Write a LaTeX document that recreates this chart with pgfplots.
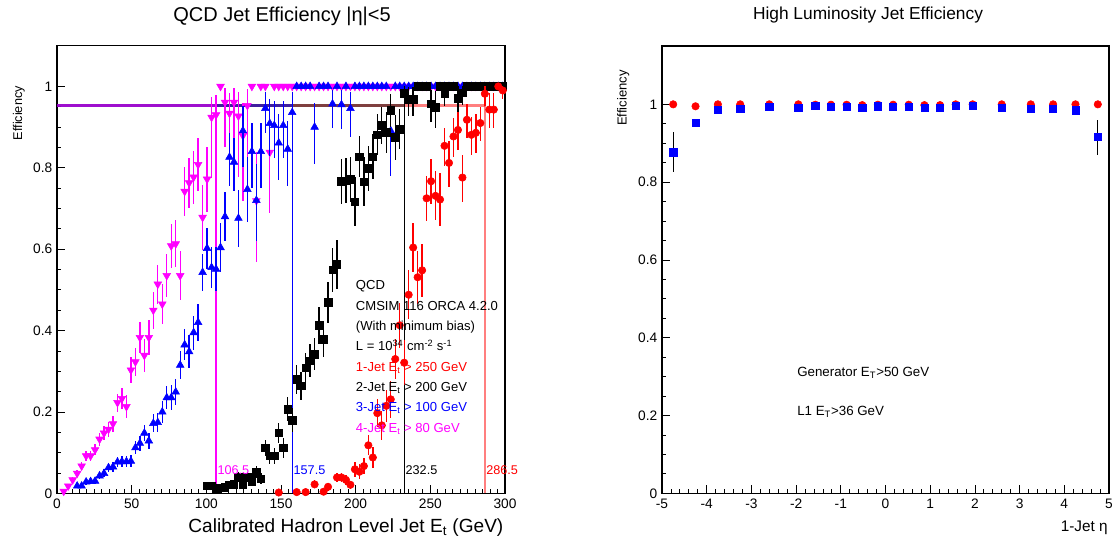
\documentclass[border=0pt]{standalone}
\usepackage{fontspec}
\setmainfont{Liberation Sans}
\usepackage{pgfplots}
\usepackage{pgfplotstable}
\pgfplotsset{compat=1.18}
\definecolor{rmag}{rgb}{1,0,1}
\definecolor{rblue}{rgb}{0,0,1}
\definecolor{rred}{rgb}{1,0,0}

\pgfplotstableread{
x y ep em
4.5 0.005 0.005 0.005
7.5 0.018 0.006 0.006
10.5 0.033 0.008 0.008
13.5 0.049 0.009 0.009
16.5 0.067 0.010 0.010
19.5 0.092 0.012 0.012
22.5 0.092 0.013 0.013
25.5 0.107 0.014 0.014
28.5 0.133 0.016 0.016
31.5 0.148 0.018 0.018
34.5 0.157 0.019 0.019
37.5 0.171 0.020 0.020
40.5 0.223 0.022 0.022
43.5 0.233 0.025 0.025
46.5 0.213 0.028 0.028
49.5 0.303 0.032 0.032
52.5 0.323 0.035 0.035
55.5 0.383 0.037 0.037
58.5 0.339 0.040 0.040
61.5 0.383 0.042 0.042
64.5 0.450 0.045 0.045
67.5 0.514 0.048 0.048
70.5 0.465 0.050 0.050
73.5 0.535 0.052 0.052
76.5 0.608 0.055 0.055
79.5 0.613 0.058 0.058
82.5 0.535 0.060 0.060
85.5 0.742 0.060 0.060
88.5 0.763 0.062 0.062
91.5 0.777 0.065 0.065
94.5 0.808 0.065 0.065
97.5 0.678 0.080 0.080
100.5 0.772 0.080 0.080
103.5 0.924 0.050 0.150
106.5 0.930 0.050 0.150
109.5 1 0 0
112.5 0.961 0.035 0.110
115.5 0.934 0.050 0.140
118.5 0.961 0.035 0.110
121.5 0.927 0.060 0.150
124.5 0.879 0.080 0.160
127.5 0.953 0.040 0.130
130.5 1 0 0
133.5 0.719 0.120 0.150
136.5 1 0 0
139.5 1 0 0
142.5 0.838 0.120 0.150
145.5 1 0 0
148.5 1 0 0
151.5 1 0 0
154.5 1 0 0
157.5 1 0 0
160.5 1 0 0
163.5 1 0 0
166.5 1 0 0
169.5 1 0 0
172.5 1 0 0
175.5 1 0 0
178.5 1 0 0
181.5 1 0 0
184.5 1 0 0
187.5 1 0 0
190.5 1 0 0
193.5 1 0 0
196.5 1 0 0
199.5 1 0 0
202.5 1 0 0
205.5 1 0 0
208.5 1 0 0
211.5 1 0 0
214.5 1 0 0
217.5 1 0 0
220.5 1 0 0
223.5 1 0 0
226.5 1 0 0
229.5 1 0 0
232.5 1 0 0
235.5 1 0 0
238.5 1 0 0
241.5 1 0 0
244.5 1 0 0
247.5 1 0 0
250.5 1 0 0
253.5 1 0 0
256.5 1 0 0
259.5 1 0 0
262.5 1 0 0
265.5 1 0 0
268.5 1 0 0
271.5 1 0 0
274.5 1 0 0
277.5 1 0 0
280.5 1 0 0
283.5 1 0 0
286.5 1 0 0
289.5 1 0 0
292.5 1 0 0
295.5 1 0 0
298.5 1 0 0
}\fourjet

\pgfplotstableread{
x y ep em
13.5 0.018 0.006 0.006
16.5 0.018 0.006 0.006
19.5 0.028 0.007 0.007
22.5 0.029 0.007 0.007
25.5 0.030 0.008 0.008
28.5 0.043 0.009 0.009
31.5 0.049 0.010 0.010
34.5 0.063 0.011 0.011
37.5 0.065 0.012 0.012
40.5 0.077 0.013 0.013
43.5 0.078 0.013 0.013
46.5 0.078 0.014 0.014
49.5 0.079 0.014 0.014
52.5 0.112 0.016 0.016
55.5 0.123 0.018 0.018
58.5 0.148 0.020 0.020
61.5 0.129 0.020 0.020
64.5 0.172 0.022 0.022
67.5 0.174 0.024 0.024
70.5 0.200 0.026 0.026
73.5 0.235 0.028 0.028
76.5 0.235 0.030 0.030
79.5 0.249 0.032 0.032
82.5 0.315 0.035 0.035
85.5 0.365 0.038 0.038
88.5 0.348 0.040 0.040
91.5 0.395 0.042 0.042
94.5 0.420 0.045 0.045
97.5 0.543 0.045 0.045
100.5 0.602 0.050 0.050
103.5 0.555 0.050 0.050
106.5 0.551 0.055 0.055
109.5 0.604 0.060 0.060
112.5 0.680 0.060 0.060
115.5 0.826 0.060 0.070
118.5 0.814 0.060 0.070
121.5 0.676 0.070 0.070
124.5 0.891 0.060 0.090
127.5 0.747 0.080 0.080
130.5 0.840 0.070 0.090
133.5 0.720 0.090 0.100
136.5 0.840 0.070 0.090
139.5 0.946 0.040 0.060
142.5 0.909 0.060 0.080
145.5 0.904 0.060 0.080
148.5 0.861 0.070 0.090
151.5 0.904 0.060 0.080
154.5 0.846 0.070 0.090
157.5 0.936 0.050 0.070
160.5 1 0 0
163.5 1 0 0
166.5 1 0 0
169.5 1 0 0
172.5 0.900 0.060 0.090
175.5 1 0 0
178.5 1 0 0
181.5 1 0 0
184.5 0.957 0.035 0.060
187.5 1 0 0
190.5 0.955 0.035 0.060
193.5 1 0 0
196.5 0.946 0.040 0.070
199.5 1 0 0
202.5 1 0 0
205.5 1 0 0
208.5 1 0 0
211.5 1 0 0
214.5 1 0 0
217.5 1 0 0
220.5 1 0 0
223.5 0.891 0.070 0.110
226.5 1 0 0
229.5 1 0 0
232.5 1 0 0
235.5 1 0 0
238.5 1 0 0
241.5 1 0 0
244.5 1 0 0
247.5 1 0 0
250.5 1 0 0
253.5 1 0 0
256.5 1 0 0
259.5 1 0 0
262.5 1 0 0
265.5 1 0 0
268.5 1 0 0
271.5 1 0 0
274.5 1 0 0
277.5 1 0 0
280.5 1 0 0
283.5 1 0 0
286.5 1 0 0
289.5 1 0 0
292.5 1 0 0
295.5 1 0 0
298.5 1 0 0
}\threejet

\pgfplotstableread{
x y ep em
100.5 0.018 0.006 0.006
103.5 0.018 0.006 0.006
106.5 0.012 0.006 0.006
109.5 0.014 0.006 0.006
112.5 0.015 0.006 0.006
115.5 0.021 0.008 0.008
118.5 0.022 0.008 0.008
121.5 0.041 0.012 0.012
124.5 0.022 0.010 0.010
127.5 0.041 0.012 0.012
130.5 0.030 0.012 0.012
133.5 0.052 0.015 0.015
136.5 0.036 0.014 0.014
139.5 0.112 0.020 0.020
142.5 0.092 0.020 0.020
145.5 0.092 0.020 0.020
148.5 0.149 0.025 0.025
151.5 0.112 0.025 0.025
154.5 0.207 0.030 0.030
157.5 0.180 0.030 0.030
160.5 0.280 0.035 0.035
163.5 0.264 0.035 0.035
166.5 0.309 0.035 0.035
169.5 0.326 0.040 0.040
172.5 0.342 0.040 0.040
175.5 0.413 0.045 0.045
178.5 0.379 0.045 0.045
181.5 0.469 0.050 0.050
184.5 0.549 0.055 0.055
187.5 0.563 0.060 0.060
190.5 0.767 0.055 0.055
193.5 0.768 0.055 0.055
196.5 0.772 0.055 0.055
199.5 0.717 0.060 0.060
202.5 0.827 0.050 0.050
205.5 0.766 0.060 0.060
208.5 0.799 0.055 0.055
211.5 0.827 0.055 0.055
214.5 0.881 0.050 0.050
217.5 0.904 0.045 0.045
220.5 0.887 0.050 0.050
223.5 0.941 0.040 0.040
226.5 0.875 0.055 0.055
229.5 0.895 0.050 0.050
232.5 0.983 0.017 0.030
235.5 0.968 0.030 0.040
238.5 0.968 0.030 0.040
241.5 1 0 0
244.5 1 0 0
247.5 1 0 0
250.5 0.957 0.035 0.045
253.5 0.949 0.040 0.050
256.5 1 0 0
259.5 0.983 0.017 0.030
262.5 1 0 0
265.5 1 0 0
268.5 0.971 0.029 0.040
271.5 0.984 0.016 0.030
274.5 1 0 0
277.5 1 0 0
280.5 1 0 0
283.5 1 0 0
286.5 1 0 0
289.5 1 0 0
292.5 1 0 0
295.5 1 0 0
298.5 1 0 0
}\twojet

\pgfplotstableread{
x y ep em
148.5 0.002 0.004 0.002
160.5 0.003 0.005 0.003
166.5 0.003 0.005 0.003
172.5 0.022 0.010 0.010
178.5 0.004 0.006 0.004
181.5 0.016 0.010 0.010
187.5 0.039 0.012 0.012
190.5 0.039 0.012 0.012
193.5 0.033 0.012 0.012
196.5 0.021 0.010 0.010
199.5 0.059 0.018 0.018
202.5 0.053 0.018 0.018
205.5 0.067 0.020 0.020
208.5 0.118 0.025 0.025
211.5 0.088 0.025 0.025
214.5 0.197 0.035 0.035
217.5 0.167 0.035 0.035
220.5 0.215 0.040 0.040
223.5 0.231 0.045 0.045
226.5 0.330 0.050 0.050
229.5 0.413 0.055 0.055
232.5 0.321 0.055 0.055
235.5 0.488 0.060 0.060
238.5 0.604 0.060 0.060
241.5 0.531 0.065 0.065
244.5 0.548 0.065 0.065
247.5 0.725 0.055 0.055
250.5 0.767 0.055 0.055
253.5 0.731 0.060 0.060
256.5 0.722 0.065 0.065
259.5 0.854 0.045 0.050
262.5 0.812 0.055 0.060
265.5 0.877 0.045 0.050
268.5 0.893 0.045 0.050
271.5 0.776 0.055 0.060
274.5 0.918 0.040 0.045
277.5 0.881 0.045 0.050
280.5 0.886 0.045 0.050
283.5 0.910 0.040 0.045
286.5 0.982 0.018 0.030
289.5 0.943 0.040 0.045
292.5 0.943 0.040 0.045
295.5 1 0 0
298.5 0.990 0.010 0.020
}\onejet

\pgfplotstableread{
x y
-4.75 1.000
-4.25 0.995
-3.75 1.000
-3.25 1.000
-2.60 1.000
-1.95 1.000
-1.57 0.999
-1.22 0.999
-0.87 0.999
-0.52 0.998
-0.17 0.999
0.17 0.999
0.52 0.999
0.87 0.998
1.22 0.998
1.57 1.000
1.95 1.000
2.60 1.000
3.25 1.000
3.75 1.000
4.25 1.000
4.75 1.000
}\genred

\pgfplotstableread{
x y e
-4.75 0.877 0.052
-4.25 0.953 0.008
-3.75 0.987 0.004
-3.25 0.989 0.004
-2.60 0.993 0.003
-1.95 0.991 0.003
-1.57 0.996 0.003
-1.22 0.994 0.003
-0.87 0.993 0.003
-0.52 0.992 0.003
-0.17 0.995 0.003
0.17 0.993 0.003
0.52 0.993 0.003
0.87 0.991 0.003
1.22 0.991 0.003
1.57 0.996 0.003
1.95 0.996 0.003
2.60 0.991 0.003
3.25 0.989 0.004
3.75 0.988 0.004
4.25 0.985 0.005
4.75 0.916 0.045
}\lonesq

\pgfplotsset{
  rootaxis/.style={
    scale only axis, anchor=south west,
    tick align=inside, tick pos=left,
    major tick length=6pt, minor tick length=3pt,
    every tick/.style={black, line width=0.6pt},
    axis line style={line width=0.8pt},
    tick label style={font=\fontsize{10.3}{12}\selectfont},
    /pgf/number format/assume math mode=true,
    clip mode=individual,
  },
}

\begin{document}
\begin{tikzpicture}
\path[use as bounding box] (0,0) rectangle (836.25pt,403.5pt);

% ---------------- left panel ----------------
\begin{axis}[rootaxis,
  at={(42.75pt,33.5pt)}, width=336pt, height=335.7pt,
  xmin=0, xmax=300, ymin=0, ymax=1.1,
  xtick={0,50,100,150,200,250,300},
  ytick={0,0.2,0.4,0.6,0.8,1},
  minor x tick num=9, minor y tick num=3,
  xticklabel style={yshift=-1pt},
]
% threshold lines
\addplot[rred, line width=1.6pt, opacity=0.5] coordinates {(0,0.953) (286.5,0.953)};
\addplot[black, line width=1.6pt, opacity=0.5] coordinates {(0,0.953) (232.5,0.953)};
\addplot[rblue, line width=1.6pt, opacity=0.5] coordinates {(0,0.953) (157.5,0.953)};
\addplot[rmag, line width=1.6pt, opacity=0.5] coordinates {(0,0.953) (106.5,0.953)};
\addplot[rred, line width=1pt, opacity=0.5] coordinates {(286.5,0.953) (286.5,0)};
\addplot[black, line width=0.7pt] coordinates {(232.5,0.953) (232.5,0)};
\addplot[rblue, line width=0.7pt] coordinates {(157.5,0.953) (157.5,0)};
\addplot[rmag, line width=0.9pt] coordinates {(106.5,0.953) (106.5,0)};

% 4-jet
\addplot[only marks, rmag, mark=triangle*, mark size=3.3pt,
  mark options={rotate=180, fill=rmag, draw=rmag},
  error bars/.cd, y dir=both, y explicit, error mark=none,
  error bar style={rmag, line width=1pt}]
  table[x=x, y=y, y error plus=ep, y error minus=em] {\fourjet};
% 3-jet
\addplot[only marks, rblue, mark=triangle*, mark size=3.3pt,
  mark options={fill=rblue, draw=rblue},
  error bars/.cd, y dir=both, y explicit, error mark=none,
  error bar style={rblue, line width=1pt}]
  table[x=x, y=y, y error plus=ep, y error minus=em] {\threejet};
% 2-jet
\addplot[only marks, black, mark=square*, mark size=2.8pt,
  mark options={fill=black, draw=black},
  error bars/.cd, y dir=both, y explicit, error mark=none,
  error bar style={black, line width=1pt}]
  table[x=x, y=y, y error plus=ep, y error minus=em] {\twojet};
% 1-jet
\addplot[only marks, rred, mark=*, mark size=2.8pt,
  mark options={fill=rred, draw=rred},
  error bars/.cd, y dir=both, y explicit, error mark=none,
  error bar style={rred, line width=1pt}]
  table[x=x, y=y, y error plus=ep, y error minus=em] {\onejet};

\begin{scope}[every node/.style={anchor=base west, inner sep=0pt, font=\fontsize{9.5}{11}\selectfont}]
\node[text=rmag] at (axis cs:107.3,0.047) {106.5};
\node[text=rblue] at (axis cs:158.3,0.047) {157.5};
\node[text=black] at (axis cs:233.3,0.047) {232.5};
\node[text=rred] at (axis cs:287.3,0.047) {286.5};
\end{scope}

\begin{scope}[every node/.style={anchor=base west, inner sep=0pt, font=\fontsize{9.8}{11}\selectfont}]
\node at (axis cs:200,0.500) {QCD};
\node at (axis cs:200,0.450) {CMSIM 116 ORCA 4.2.0};
\node at (axis cs:200,0.400) {(With minimum bias)};
\node at (axis cs:200,0.350) {L = 10\textsuperscript{34} cm\textsuperscript{-2} s\textsuperscript{-1}};
\node[text=rred] at (axis cs:200,0.300) {1-Jet E\textsubscript{t} > 250 GeV};
\node[text=black] at (axis cs:200,0.250) {2-Jet E\textsubscript{t} > 200 GeV};
\node[text=rblue] at (axis cs:200,0.200) {3-Jet E\textsubscript{t} > 100 GeV};
\node[text=rmag] at (axis cs:200,0.150) {4-Jet E\textsubscript{t} > 80 GeV};
\end{scope}
\end{axis}

% ---------------- right panel ----------------
\begin{axis}[rootaxis,
  at={(496.5pt,33.5pt)}, width=335.25pt, height=335.5pt,
  xmin=-5, xmax=5, ymin=0, ymax=1.15,
  xtick={-5,-4,-3,-2,-1,0,1,2,3,4,5},
  xticklabels={-5,-4,-3,-2,-1,0,1,2,3,4,5},
  ytick={0,0.2,0.4,0.6,0.8,1},
  minor x tick num=4, minor y tick num=3,
  xticklabel style={yshift=-1pt},
]
\addplot[only marks, rred, mark=*, mark size=2.8pt,
  mark options={fill=rred, draw=rred}]
  table[x=x, y=y] {\genred};
\addplot[only marks, rblue, mark=square*, mark size=2.7pt,
  mark options={fill=rblue, draw=rblue},
  error bars/.cd, y dir=both, y explicit, error mark=none,
  error bar style={black, line width=0.6pt}]
  table[x=x, y=y, y error=e] {\lonesq};
\node[anchor=base west, inner sep=0pt, font=\fontsize{10}{12}\selectfont] at (axis cs:-1.98,0.300) {Generator E\textsubscript{T}>50 GeV};
\node[anchor=base west, inner sep=0pt, font=\fontsize{10}{12}\selectfont] at (axis cs:-1.98,0.200) {L1 E\textsubscript{T}>36 GeV};
\end{axis}

% titles and axis labels
\node[anchor=base, inner sep=0pt, font=\fontsize{15}{17}\selectfont] at (211.5pt,387pt) {QCD Jet Efficiency |η|<5};
\node[anchor=base, inner sep=0pt, font=\fontsize{13}{15}\selectfont] at (651pt,388.5pt) {High Luminosity Jet Efficiency};
\node[anchor=base east, inner sep=0pt, font=\fontsize{14.3}{16}\selectfont] at (377.7pt,3.75pt) {Calibrated Hadron Level Jet E\textsubscript{t} (GeV)};
\node[anchor=base east, inner sep=0pt, font=\fontsize{11.5}{13}\selectfont] at (831pt,4.5pt) {1-Jet η};
\node[rotate=90, anchor=base east, inner sep=0pt, font=\fontsize{9.5}{12}\selectfont] at (16.5pt,339pt) {Efficiency};
\node[rotate=90, anchor=base east, inner sep=0pt, font=\fontsize{9.8}{12}\selectfont] at (470pt,351pt) {Efficiency};
\end{tikzpicture}
\end{document}
